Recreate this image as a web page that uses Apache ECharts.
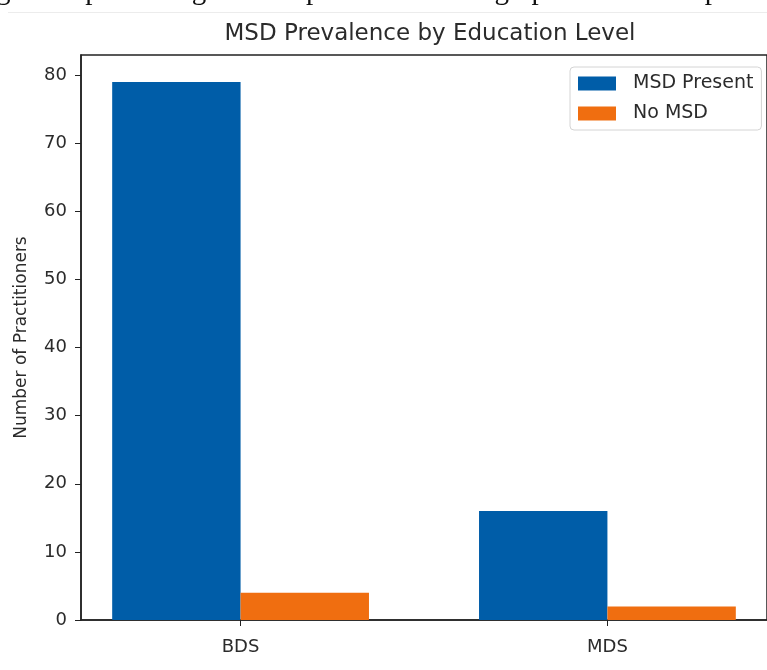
<!DOCTYPE html>
<html>
<head>
<meta charset="utf-8">
<script src="https://cdn.jsdelivr.net/npm/echarts@6/dist/echarts.min.js"></script>
<style>
  html, body { margin: 0; padding: 0; background: #fff; }
  #main { width: 767px; height: 670px; }
</style>
</head>
<body>
<div id="main"></div>
<script>
// data
var categories = ['BDS', 'MDS'];
var msdPresent = [79, 16];
var noMsd = [4, 2];
var yTicks = [0, 10, 20, 30, 40, 50, 60, 70, 80];

var barW = 0.35;   // bar width in category units (matplotlib style)
var font = 'DejaVu Sans';
var ink = '#2b2b2b';

// x limits like matplotlib's 5% margin around the bars
var xMin = -barW - 0.05 * (categories.length - 1 + 2 * barW);
var xMax = categories.length - 1 + barW + 0.05 * (categories.length - 1 + 2 * barW);
var yMax = Math.max.apply(null, msdPresent.concat(noMsd)) * 1.05;

function barItem(offset) {
  return function (params, api) {
    var x = api.value(0), v = api.value(1);
    var a = api.coord([x + offset - barW / 2, v]);
    var b = api.coord([x + offset + barW / 2, 0]);
    return {
      type: 'rect',
      shape: { x: a[0], y: a[1], width: b[0] - a[0], height: b[1] - a[1] },
      style: api.style()
    };
  };
}

var chart = echarts.init(document.getElementById('main'), null, { renderer: 'canvas' });

chart.setOption({
  backgroundColor: '#fff',
  animation: false,
  title: {
    text: 'MSD Prevalence by Education Level',
    left: 425,
    textAlign: 'center',
    top: 18,
    textStyle: { fontFamily: font, fontSize: 23, fontWeight: 'normal', color: ink }
  },
  graphic: [
    {
      type: 'text',
      left: -4,
      top: -23,
      style: {
        text: 'gram representing the comparison of demographic and work profile',
        font: '29px "Liberation Serif"',
        fill: '#111'
      }
    },
    {
      type: 'rect',
      shape: { x: 8, y: 12, width: 767, height: 1 },
      style: { fill: '#ececec' }
    }
  ],
  legend: {
    data: ['MSD Present', 'No MSD'],
    orient: 'vertical',
    left: 570,
    top: 67,
    icon: 'rect',
    itemWidth: 38,
    itemHeight: 14,
    itemGap: 11,
    padding: [7, 8, 7, 8],
    borderColor: '#d4d4d4',
    borderWidth: 1,
    borderRadius: 4,
    textStyle: { fontFamily: font, fontSize: 19, color: ink, padding: [0, 0, 0, 12] }
  },
  grid: {
    left: 81,
    top: 55,
    right: -6,
    bottom: 50,
    show: true,
    borderColor: '#222',
    borderWidth: 1.5,
    backgroundColor: 'transparent'
  },
  xAxis: {
    type: 'value',
    min: xMin,
    max: xMax,
    splitLine: { show: false },
    axisLine: { show: true, onZero: false, lineStyle: { color: '#222', width: 1.5 } },
    axisTick: { show: true, length: 6, customValues: categories.map(function (c, i) { return i; }), lineStyle: { color: '#222' } },
    axisLabel: {
      customValues: categories.map(function (c, i) { return i; }),
      formatter: function (v) { return categories[Math.round(v)]; },
      margin: 18,
      fontFamily: font, fontSize: 18, color: ink
    }
  },
  yAxis: {
    type: 'value',
    min: 0,
    max: yMax,
    name: 'Number of Practitioners',
    nameLocation: 'middle',
    nameGap: 51,
    nameRotate: 90,
    nameTextStyle: { fontFamily: font, fontSize: 17, color: ink },
    splitLine: { show: false },
    axisLine: { show: true, onZero: false, lineStyle: { color: '#222', width: 1.5 } },
    axisTick: { show: true, length: 6, customValues: yTicks, lineStyle: { color: '#222' } },
    axisLabel: {
      customValues: yTicks,
      margin: 14,
      fontFamily: font, fontSize: 18, color: ink
    }
  },
  series: [
    {
      name: 'MSD Present',
      type: 'custom',
      renderItem: barItem(-barW / 2),
      encode: { x: 0, y: 1 },
      itemStyle: { color: '#005da8' },
      data: categories.map(function (c, i) { return [i, msdPresent[i]]; })
    },
    {
      name: 'No MSD',
      type: 'custom',
      renderItem: barItem(barW / 2),
      encode: { x: 0, y: 1 },
      itemStyle: { color: '#f06e10' },
      data: categories.map(function (c, i) { return [i, noMsd[i]]; })
    }
  ]
});
</script>
</body>
</html>
